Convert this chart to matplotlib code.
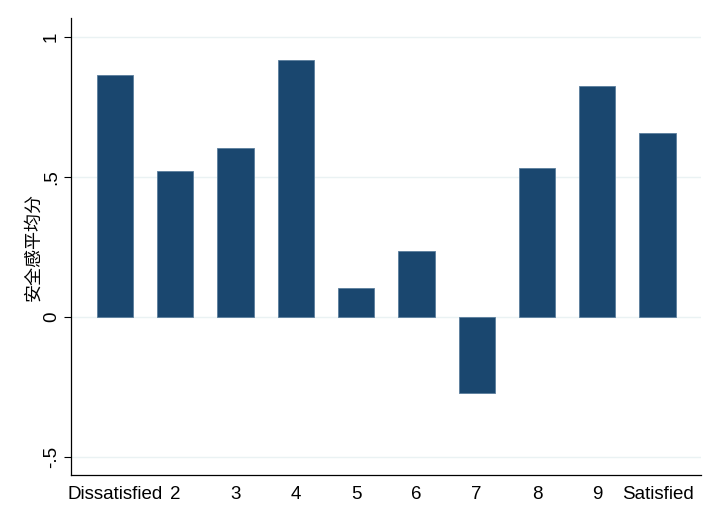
import matplotlib
matplotlib.use('Agg')
import matplotlib.pyplot as plt

# === 数据 ===
categories = ['Dissatisfied', '2', '3', '4', '5', '6', '7', '8', '9', 'Satisfied']
values = [0.864, 0.521, 0.604, 0.918, 0.104, 0.236, -0.273, 0.532, 0.825, 0.657]
ytick_vals = [-0.5, 0, 0.5, 1]
ytick_labels = ['-.5', '0', '.5', '1']

BAR_COLOR = '#1a476f'
GRID_COLOR = '#eaf2f3'

plt.rcParams['font.family'] = ['Liberation Sans', 'Noto Sans CJK SC', 'DejaVu Sans']

fig = plt.figure(figsize=(7.2, 5.24), dpi=100)
ax = fig.add_axes([0.0986, 0.0935, 0.875, 0.872])

x = list(range(len(categories)))
ax.bar(x, values, width=0.6, color=BAR_COLOR, edgecolor='#5a7d9c', linewidth=0.6, zorder=3)

ax.set_xlim(-0.73, 9.72)
ax.set_ylim(-0.565, 1.066)

ax.set_yticks(ytick_vals)
ax.set_yticklabels(ytick_labels, rotation=90, va='center', fontsize=13.5)
ax.set_xticks(x)
ax.set_xticklabels(categories, fontsize=13.5)
ax.tick_params(axis='x', length=0, pad=8)
ax.tick_params(axis='y', length=5, width=0.8, pad=3)

ax.grid(axis='y', color=GRID_COLOR, linewidth=1, zorder=0)
ax.spines['top'].set_visible(False)
ax.spines['right'].set_visible(False)
ax.spines['left'].set_linewidth(0.9)
ax.spines['bottom'].set_linewidth(0.9)

ax.set_ylabel('安全感平均分', fontsize=13, family=['Noto Sans CJK SC', 'DejaVu Sans'], labelpad=0)

fig.savefig('out.png', dpi=100, facecolor='white')
